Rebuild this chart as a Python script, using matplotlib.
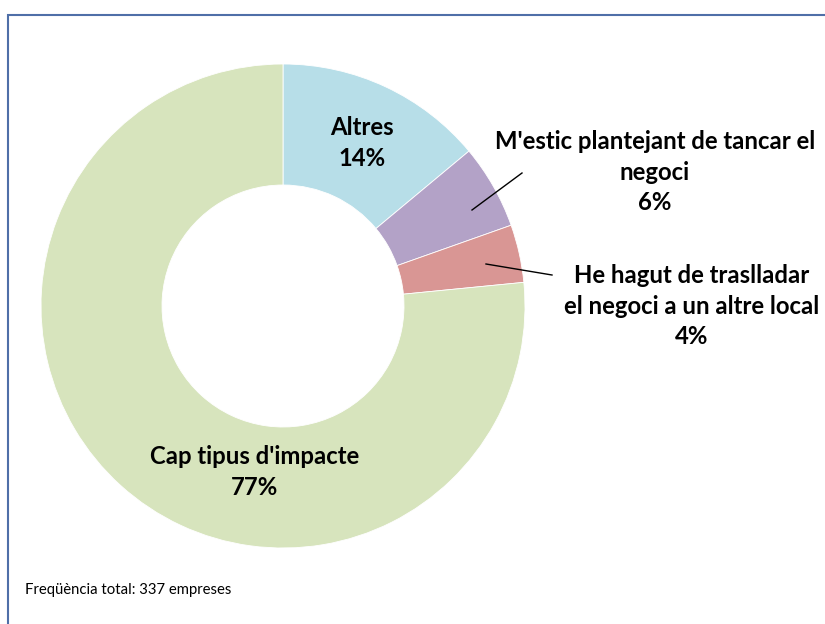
import matplotlib
matplotlib.use("Agg")
import matplotlib.pyplot as plt
from matplotlib.patches import Rectangle

categories = ["Altres", "M'estic plantejant de tancar el\nnegoci",
              "He hagut de traslladar\nel negoci a un altre local", "Cap tipus d'impacte"]
counts = [47, 19, 13, 258]
pct_labels = ["14%", "6%", "4%", "77%"]
colors = ["#B7DEE8", "#B3A2C7", "#D99694", "#D7E4BD"]
footnote = "Freqüència total: 337 empreses"

W, H = 825, 624
fig = plt.figure(figsize=(W / 100, H / 100), dpi=100)
fig.patch.set_facecolor("white")

# frame border
fig.add_artist(Rectangle((8 / W, -0.05), 1.2, 1 - 15 / H + 0.05, transform=fig.transFigure,
                         fill=False, edgecolor="#4F6FA8", linewidth=1.5))

cx, cy, R = 283, 306, 242
ax = fig.add_axes([(cx - R) / W, (H - cy - R) / H, 2 * R / W, 2 * R / H])
ax.pie(counts, colors=colors, startangle=90, counterclock=False, radius=1.0,
       wedgeprops=dict(width=0.5, edgecolor="white", linewidth=0.6))
ax.set_xlim(-1, 1)
ax.set_ylim(-1, 1)
ax.set_aspect("auto")
ax.axis("off")

font = dict(family=["Lato", "DejaVu Sans"], fontweight="bold", fontsize=17.2, color="#000000",
            ha="center", va="center", linespacing=1.42)

def px(x, y):
    return ((x - cx) / R, (cy - y) / R)

ax.text(*px(362, 143), categories[0] + "\n" + pct_labels[0], clip_on=False, **font)
ax.text(*px(655, 172), categories[1] + "\n" + pct_labels[1], clip_on=False, **font)
ax.text(*px(692, 306), categories[2] + "\n" + pct_labels[2], clip_on=False, **font)
ax.text(*px(255, 472), categories[3] + "\n" + pct_labels[3], clip_on=False, **font)

# leader lines
for (x0, y0), (x1, y1) in [((522, 173), (472, 210)), ((552, 275), (486, 264))]:
    a = px(x0, y0); b = px(x1, y1)
    ax.plot([a[0], b[0]], [a[1], b[1]], color="black", linewidth=1, clip_on=False)

fig.text(25 / W, 1 - 590 / H, footnote, family=["Lato", "DejaVu Sans"], fontsize=10.7,
         color="#000000", ha="left", va="center")

fig.savefig("out.png", dpi=100, facecolor="white")
